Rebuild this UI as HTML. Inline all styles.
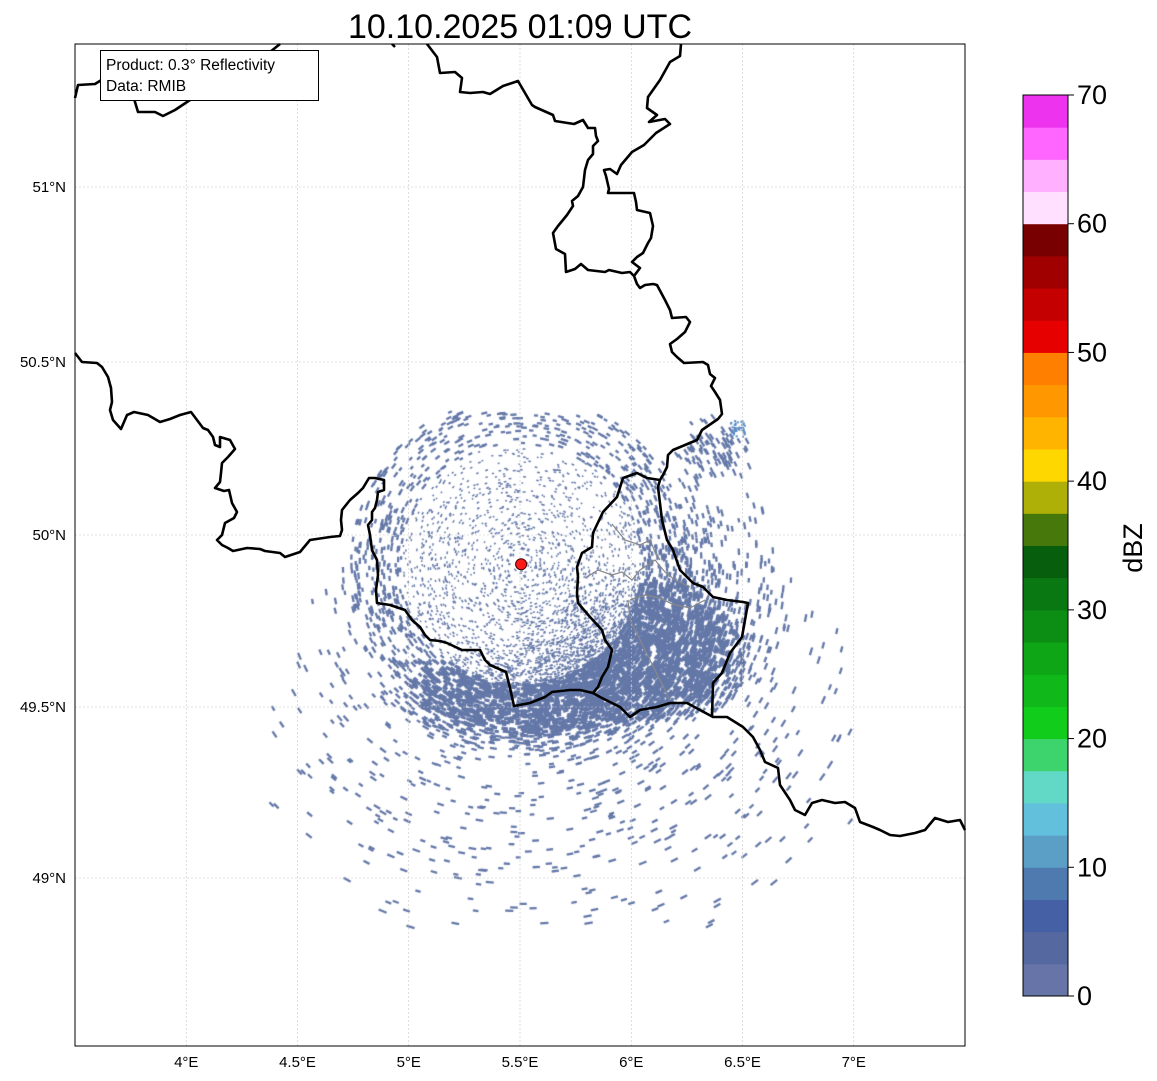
<!DOCTYPE html>
<html><head><meta charset="utf-8"><style>
html,body{margin:0;padding:0;background:#fff;width:1157px;height:1081px;overflow:hidden;font-family:"Liberation Sans","DejaVu Sans",sans-serif}
#wrap{position:relative;width:1157px;height:1081px}
canvas,svg{position:absolute;left:0;top:0}
</style></head><body>
<div id="wrap">
<canvas id="echo" width="1157" height="1081"></canvas>
<svg id="fig" width="1157" height="1081"></svg>
</div>
<script>
// ---- data arrays ----
const lonTicks=[4,4.5,5,5.5,6,6.5,7];
const lonLabels=["4°E","4.5°E","5°E","5.5°E","6°E","6.5°E","7°E"];
const latTicks=[49,49.5,50,50.5,51];
const latLabels=["49°N","49.5°N","50°N","50.5°N","51°N"];
const cbTicks=[0,10,20,30,40,50,60,70];
const cbColors=["#6674a8","#55689f","#4560a4","#4e7ab0","#5b9ec6","#63c0dc","#62d8c6","#3dd46e","#12cc1c","#10b81a","#0ea616","#0c8e14","#0a7812","#075f0e","#47780c","#aeb007","#ffd700","#ffb400","#ff9800","#ff7f00","#e60000","#c40000","#a00000","#780000","#ffe0ff","#ffb0ff","#ff66ff","#ee33ee"];
const radarSite=[5.505,49.915];

// ---- projection ----
const X0=75,X1=965,Y0=44,Y1=1046;
function lonX(l){return 75+(l-3.5)*222.5;}
const latRef=[49,49.5,50,50.5,51], yRef=[878,707,535,362,187];
function latY(a){let i=a<49.5?0:a<50?1:a<50.5?2:3;return yRef[i]+(a-latRef[i])/(latRef[i+1]-latRef[i])*(yRef[i+1]-yRef[i]);}

const NS="http://www.w3.org/2000/svg";
const svg=document.getElementById('fig');
function mk(tag,attrs,parent){const e=document.createElementNS(NS,tag);for(const k in attrs)e.setAttribute(k,attrs[k]);(parent||svg).appendChild(e);return e;}

// ---- speckle echoes (texture) ----
(function(){
 const c=document.getElementById('echo').getContext('2d');
 c.save();c.beginPath();c.rect(X0,Y0,X1-X0,Y1-Y0);c.clip();
 let s=12345;function rnd(){s|=0;s=s+0x6D2B79F5|0;let t=Math.imul(s^s>>>15,1|s);t=t+Math.imul(t^t>>>7,61|t)^t;return((t^t>>>14)>>>0)/4294967296;}
 const cx=lonX(radarSite[0]),cy=latY(radarSite[1]);
 function ell(x,y,ex,ey,rx,ry){const d=((x-ex)/rx)**2+((y-ey)/ry)**2;return Math.max(0,1-d);}
 function dens(x,y){
  const r=Math.hypot(x-cx,y-cy);
  if(y<412||r>420)return 0;
  let d=0;
  d+=0.6*ell(x,y,645,650,115,80);
  d+=0.45*ell(x,y,530,695,150,60);
  d+=0.12*ell(x,y,570,600,240,160);
  d+=0.03*ell(x,y,560,720,330,240);
  d+=0.18*ell(x,y,715,450,40,35);
  if(r<170)d+=0.06+0.04*(r/170);
  return Math.min(0.85,d);
 }
 c.fillStyle="#6478a8";
 for(let i=0;i<75000;i++){
  const x=270+rnd()*620,y=405+rnd()*560;
  const d=dens(x,y);
  if(rnd()>d)continue;
  const r=Math.hypot(x-cx,y-cy);
  const ang=Math.atan2(y-cy,x-cx)+Math.PI/2;
  let len,th;
  if(r<120){len=1.5+rnd()*1.5;th=1.5;}
  else{len=2.5+rnd()*3+r/120;th=d>0.3?3:2.3;}
  c.save();c.translate(x,y);c.rotate(ang);c.fillRect(-len/2,-th/2,len,th);c.restore();
 }
 c.fillStyle="#5a8cc4";
 for(let i=0;i<40;i++){c.fillRect(730+rnd()*14,420+rnd()*16,2,2);}
 c.restore();
})();

// ---- gridlines ----
const grid=mk('g',{});
lonTicks.forEach(l=>{const x=lonX(l);const e=mk('line',{x1:x,x2:x,y1:Y0,y2:Y1,stroke:'#c8c8c8','stroke-width':0.6,'stroke-dasharray':'2,2'},grid);});
latTicks.forEach(a=>{const y=latY(a);const e=mk('line',{x1:X0,x2:X1,y1:y,y2:y,stroke:'#c8c8c8','stroke-width':0.6,'stroke-dasharray':'2,2'},grid);});

// ---- borders ----
const borders={
 nlBeWest:[[75,98],[78,85],[95,84],[103,79],[120,82],[132,92],[138,112],[155,112],[163,116],[175,110],[190,100],[210,92],[232,80],[255,65],[270,52],[280,44]],
 beDeNorth:[[427,44],[437,57],[440,73],[455,72],[462,78],[460,92],[470,93],[483,92],[490,94],[503,86],[518,81],[532,105],[535,107],[553,115],[555,121],[574,124],[583,120],[588,128],[595,128],[596,136],[598,141],[593,146],[593,154],[588,160],[585,170],[583,187],[578,196],[572,201],[573,206],[567,215],[558,226],[553,233],[556,249],[565,254],[566,272],[575,269],[581,264],[588,270],[605,272],[609,270],[622,273],[630,272],[634,276],[637,284],[640,288],[645,285],[653,284],[657,285],[665,300],[670,310],[672,318],[686,317],[690,322],[685,332],[677,339],[670,344],[672,352],[677,357],[684,363],[703,362],[708,365],[710,374],[715,378],[711,386],[715,392],[720,400],[722,414],[718,419],[702,430],[697,440],[673,450],[668,455],[667,467],[663,475],[660,480],[658,487],[662,520],[667,540],[673,550],[680,570],[693,583],[703,587],[713,597],[727,600],[743,602],[748,603],[745,620],[742,637],[730,653],[722,673],[713,683],[712,717]],
 nlLimburg:[[681,44],[680,56],[670,62],[660,80],[648,97],[647,108],[657,115],[649,122],[665,119],[670,124],[656,133],[644,145],[632,152],[621,165],[617,174],[610,169],[604,170],[606,176],[609,189],[608,193],[616,193],[634,193],[636,202],[637,210],[650,213],[653,226],[651,238],[648,243],[643,253],[637,257],[632,262],[640,268],[634,276]],
 beFr:[[75,353],[82,362],[97,363],[102,367],[108,377],[111,388],[112,402],[110,410],[113,420],[121,429],[127,415],[134,412],[148,415],[160,422],[170,419],[180,415],[191,412],[197,420],[203,428],[208,430],[213,437],[215,445],[220,447],[220,437],[230,440],[235,449],[228,457],[222,463],[221,473],[220,482],[215,488],[224,491],[229,490],[232,503],[237,512],[234,518],[225,523],[222,535],[217,540],[222,545],[228,548],[233,551],[247,548],[260,549],[265,551],[280,553],[285,557],[300,552],[310,540],[330,537],[340,536],[342,530],[341,520],[342,510],[350,500],[358,493],[363,488],[369,478],[375,478],[384,480],[384,490],[378,492],[377,500],[375,508],[372,512],[372,520],[368,525],[370,535],[372,550],[377,560],[378,575],[376,590],[377,603],[390,605],[405,610],[412,620],[420,627],[425,635],[430,640],[440,641],[447,643],[462,650],[480,650],[485,660],[490,665],[506,672],[510,688],[514,706],[530,703],[545,697],[552,692],[570,690],[580,690],[593,693]],
 lux:[[660,480],[647,478],[637,473],[623,478],[617,497],[603,512],[593,533],[592,547],[582,553],[577,567],[578,577],[577,593],[578,603],[590,617],[602,630],[605,640],[612,650],[608,667],[602,677],[598,687],[593,693],[600,697],[620,707],[630,717],[640,710],[657,707],[670,703],[687,703],[700,710],[713,717],[727,717],[743,727],[753,737],[760,750],[765,762],[778,768],[780,785],[790,800],[795,810],[805,815],[812,803],[822,800],[835,803],[845,802],[855,808],[860,822],[873,827],[880,830],[890,835],[900,836],[915,833],[925,830],[935,818],[948,822],[960,820],[965,830]],
 topStub:[[392,44],[395,47]]
};
const inner={
 c1:[[585,578],[598,570],[612,575],[622,572],[632,580],[640,570],[655,560],[665,572],[675,580],[690,587]],
 c2:[[612,524],[625,540],[640,545],[650,540],[655,552],[660,560]],
 c3:[[630,600],[645,595],[660,598],[672,604],[690,608],[705,600]],
 c4:[[628,600],[630,620],[640,640],[650,660],[660,680],[670,700]]
};
const bg=mk('g',{});
for(const k in inner){const e=mk('polyline',{points:inner[k].map(p=>p.join(',')).join(' '),fill:'none',stroke:'#888','stroke-width':1.2},bg);}
for(const k in borders){const e=mk('polyline',{points:borders[k].map(p=>p.join(',')).join(' '),fill:'none',stroke:'#000','stroke-width':2.6,'stroke-linejoin':'round'},bg);}

// radar site
const site=mk('circle',{cx:lonX(radarSite[0]),cy:latY(radarSite[1]),r:5.5,fill:'#ff1a1a',stroke:'#400','stroke-width':1});


// frame
mk('rect',{x:X0,y:Y0,width:X1-X0,height:Y1-Y0,fill:'none',stroke:'#000','stroke-width':1,});

// axis labels
lonTicks.forEach((l,i)=>{const t=mk('text',{x:lonX(l),y:1067,'font-size':15,'text-anchor':'middle',fill:'#000'});t.textContent=lonLabels[i];});
latTicks.forEach((a,i)=>{const t=mk('text',{x:66,y:latY(a)+5,'font-size':15,'text-anchor':'end',fill:'#000'});t.textContent=latLabels[i];});

// title
const tt=mk('text',{x:520,y:38,'font-size':34,'text-anchor':'middle',fill:'#000'});tt.textContent="10.10.2025 01:09 UTC";


// info box
const ib=mk('g',{});
mk('rect',{x:100.5,y:50.5,width:218,height:50,fill:'#fff',stroke:'#000','stroke-width':1},ib);
const t1=mk('text',{x:106,y:70,'font-size':15.5,fill:'#000'},ib);t1.textContent="Product: 0.3° Reflectivity";
const t2=mk('text',{x:106,y:91,'font-size':15.5,fill:'#000'},ib);t2.textContent="Data: RMIB";

// colorbar
const CB={x:1023,w:45,y0:996,y1:95,vmin:0,vmax:70};
function cbY(v){return CB.y0+(v-CB.vmin)/(CB.vmax-CB.vmin)*(CB.y1-CB.y0);}
const cb=mk('g',{});
const step=(CB.vmax-CB.vmin)/cbColors.length;
cbColors.forEach((col,i)=>{const ya=cbY(i*step),yb=cbY((i+1)*step);const r=mk('rect',{x:CB.x,y:yb,width:CB.w,height:ya-yb+0.5,fill:col},cb);});
mk('rect',{x:CB.x,y:CB.y1,width:CB.w,height:CB.y0-CB.y1,fill:'none',stroke:'#000','stroke-width':1},cb);
cbTicks.forEach(v=>{const y=cbY(v);mk('line',{x1:CB.x+CB.w,x2:CB.x+CB.w+6,y1:y,y2:y,stroke:'#000','stroke-width':1},cb);const t=mk('text',{x:1077,y:y+9,'font-size':27,fill:'#000'},cb);t.textContent=v;});
const cl=mk('text',{x:1142,y:548,'font-size':27,'text-anchor':'middle',fill:'#000',transform:'rotate(-90 1142 548)'},cb);cl.textContent="dBZ";

</script>
</body></html>
